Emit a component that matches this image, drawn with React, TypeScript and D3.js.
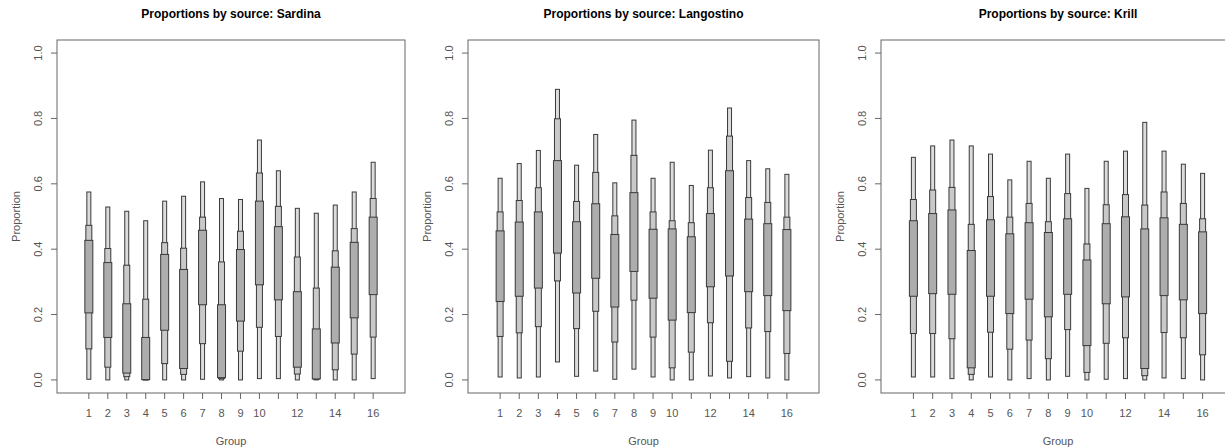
import * as d3 from 'd3';

// groups 1..16, tick labels that R kept after dropping overlaps
const GROUPS = d3.range(1, 17);
const X_LABELS = [1, 2, 3, 4, 5, 6, 7, 8, 9, 10, 12, 14, 16];
const Y_TICKS = [0, 0.2, 0.4, 0.6, 0.8, 1.0];
const SOURCES = ['Sardina', 'Langostino', 'Krill'];

// quantiles per group: [2.5%, 12.5%, 25%, 75%, 87.5%, 97.5%]
const sardina = [
  [0.002, 0.095, 0.205, 0.427, 0.473, 0.575],
  [0.0, 0.039, 0.130, 0.359, 0.402, 0.529],
  [0.0, 0.010, 0.021, 0.233, 0.351, 0.516],
  [0.0, 0.0, 0.001, 0.130, 0.247, 0.487],
  [0.0, 0.050, 0.152, 0.384, 0.420, 0.547],
  [0.0, 0.017, 0.035, 0.338, 0.403, 0.562],
  [0.002, 0.111, 0.230, 0.458, 0.498, 0.606],
  [0.0, 0.004, 0.007, 0.230, 0.361, 0.555],
  [0.0, 0.088, 0.180, 0.399, 0.455, 0.552],
  [0.004, 0.161, 0.291, 0.547, 0.633, 0.734],
  [0.004, 0.133, 0.245, 0.469, 0.531, 0.640],
  [0.0, 0.018, 0.039, 0.270, 0.376, 0.525],
  [0.0, 0.002, 0.003, 0.156, 0.281, 0.510],
  [0.0, 0.031, 0.113, 0.345, 0.395, 0.535],
  [0.0, 0.079, 0.190, 0.421, 0.463, 0.575],
  [0.004, 0.131, 0.261, 0.498, 0.555, 0.666],
];

const langostino = [
  [0.009, 0.133, 0.240, 0.456, 0.514, 0.617],
  [0.006, 0.144, 0.256, 0.483, 0.549, 0.662],
  [0.009, 0.163, 0.281, 0.514, 0.588, 0.702],
  [0.055, 0.303, 0.388, 0.671, 0.799, 0.889],
  [0.011, 0.157, 0.266, 0.484, 0.546, 0.657],
  [0.027, 0.210, 0.311, 0.539, 0.635, 0.751],
  [0.002, 0.116, 0.223, 0.445, 0.502, 0.603],
  [0.033, 0.244, 0.332, 0.573, 0.687, 0.795],
  [0.009, 0.131, 0.250, 0.461, 0.514, 0.617],
  [0.0, 0.037, 0.183, 0.462, 0.487, 0.666],
  [0.0, 0.085, 0.206, 0.438, 0.481, 0.595],
  [0.012, 0.175, 0.285, 0.509, 0.588, 0.703],
  [0.006, 0.057, 0.318, 0.640, 0.746, 0.832],
  [0.010, 0.159, 0.270, 0.492, 0.558, 0.671],
  [0.006, 0.148, 0.258, 0.478, 0.543, 0.646],
  [0.0, 0.081, 0.212, 0.460, 0.498, 0.629],
];

const krill = [
  [0.009, 0.142, 0.256, 0.487, 0.552, 0.681],
  [0.009, 0.142, 0.264, 0.509, 0.581, 0.716],
  [0.004, 0.126, 0.262, 0.520, 0.589, 0.734],
  [0.0, 0.017, 0.037, 0.396, 0.476, 0.716],
  [0.009, 0.146, 0.256, 0.490, 0.561, 0.691],
  [0.0, 0.094, 0.203, 0.447, 0.498, 0.612],
  [0.004, 0.122, 0.247, 0.481, 0.540, 0.669],
  [0.0, 0.065, 0.193, 0.451, 0.484, 0.617],
  [0.011, 0.154, 0.262, 0.493, 0.570, 0.691],
  [0.0, 0.023, 0.105, 0.367, 0.416, 0.586],
  [0.002, 0.112, 0.233, 0.478, 0.536, 0.669],
  [0.004, 0.129, 0.254, 0.499, 0.567, 0.700],
  [0.0, 0.013, 0.035, 0.462, 0.535, 0.788],
  [0.006, 0.145, 0.258, 0.496, 0.575, 0.700],
  [0.004, 0.129, 0.245, 0.476, 0.540, 0.660],
  [0.0, 0.077, 0.203, 0.453, 0.493, 0.632],
];

const PANEL_DATA = [sardina, langostino, krill];

// plot-box placement for each panel (R mfrow layout)
const BOXES = [
  { left: 57, right: 405 },
  { left: 468, right: 819 },
  { left: 881, right: 1235 },
];
const TOP = 40;
const BOTTOM = 393;

const FONT = 'Liberation Sans, Arial, sans-serif';
const AXIS_COL = '#666';
const TEXT_COL = '#555';

// interval bands: [lowIdx, highIdx, width, fill]
const BANDS: [number, number, number, string][] = [
  [0, 5, 4, '#dcdcdc'],
  [1, 4, 6, '#c9c9c9'],
  [2, 3, 8, '#adadad'],
];

function Panel({ idx }: { idx: number }) {
  const box = BOXES[idx];
  const data = PANEL_DATA[idx];
  const x = d3.scaleLinear().domain([-0.68, 17.68]).range([box.left, box.right]);
  const y = d3.scaleLinear().domain([-0.04, 1.04]).range([BOTTOM, TOP]);
  const cx = (box.left + box.right) / 2;
  const cy = (TOP + BOTTOM) / 2;

  return (
    <g>
      <text x={cx} y={18} textAnchor="middle" fontFamily={FONT} fontWeight="bold" fontSize={12} fill="#000">
        {`Proportions by source: ${SOURCES[idx]}`}
      </text>

      {GROUPS.map((g, i) => (
        <g key={g}>
          {BANDS.map(([lo, hi, w, fill], j) => {
            const y1 = y(data[i][hi]);
            const y2 = y(data[i][lo]);
            return (
              <rect
                key={j}
                x={x(g) - w / 2}
                y={y1}
                width={w}
                height={Math.max(0.5, y2 - y1)}
                fill={fill}
                stroke="#3a3a3a"
                strokeWidth={1}
              />
            );
          })}
        </g>
      ))}

      <rect x={box.left} y={TOP} width={box.right - box.left} height={BOTTOM - TOP} fill="none" stroke={AXIS_COL} strokeWidth={1} />

      {/* x axis */}
      {GROUPS.map((g) => (
        <line key={g} x1={x(g)} x2={x(g)} y1={BOTTOM} y2={BOTTOM + 6} stroke={AXIS_COL} />
      ))}
      {X_LABELS.map((g) => (
        <text key={g} x={x(g)} y={417} textAnchor="middle" fontFamily={FONT} fontSize={11} fill={TEXT_COL}>
          {g}
        </text>
      ))}
      <text x={cx} y={445} textAnchor="middle" fontFamily={FONT} fontSize={11} fill={TEXT_COL}>
        Group
      </text>

      {/* y axis */}
      {Y_TICKS.map((t) => (
        <g key={t}>
          <line x1={box.left - 6} x2={box.left} y1={y(t)} y2={y(t)} stroke={AXIS_COL} />
          <text
            transform={`translate(${box.left - 15},${y(t)}) rotate(-90)`}
            textAnchor="middle"
            fontFamily={FONT}
            fontSize={11}
            fill={TEXT_COL}
          >
            {d3.format('.1f')(t)}
          </text>
        </g>
      ))}
      <text
        transform={`translate(${box.left - 37},${cy}) rotate(-90)`}
        textAnchor="middle"
        fontFamily={FONT}
        fontSize={11}
        fill={TEXT_COL}
      >
        Proportion
      </text>
    </g>
  );
}

export default function App() {
  return (
    <svg
      width={1225}
      height={448}
      style={{ position: 'absolute', left: 0, top: 0, background: '#fff' }}
    >
      <rect width={1225} height={448} fill="#fff" />
      {SOURCES.map((_, i) => (
        <Panel key={i} idx={i} />
      ))}
    </svg>
  );
}
